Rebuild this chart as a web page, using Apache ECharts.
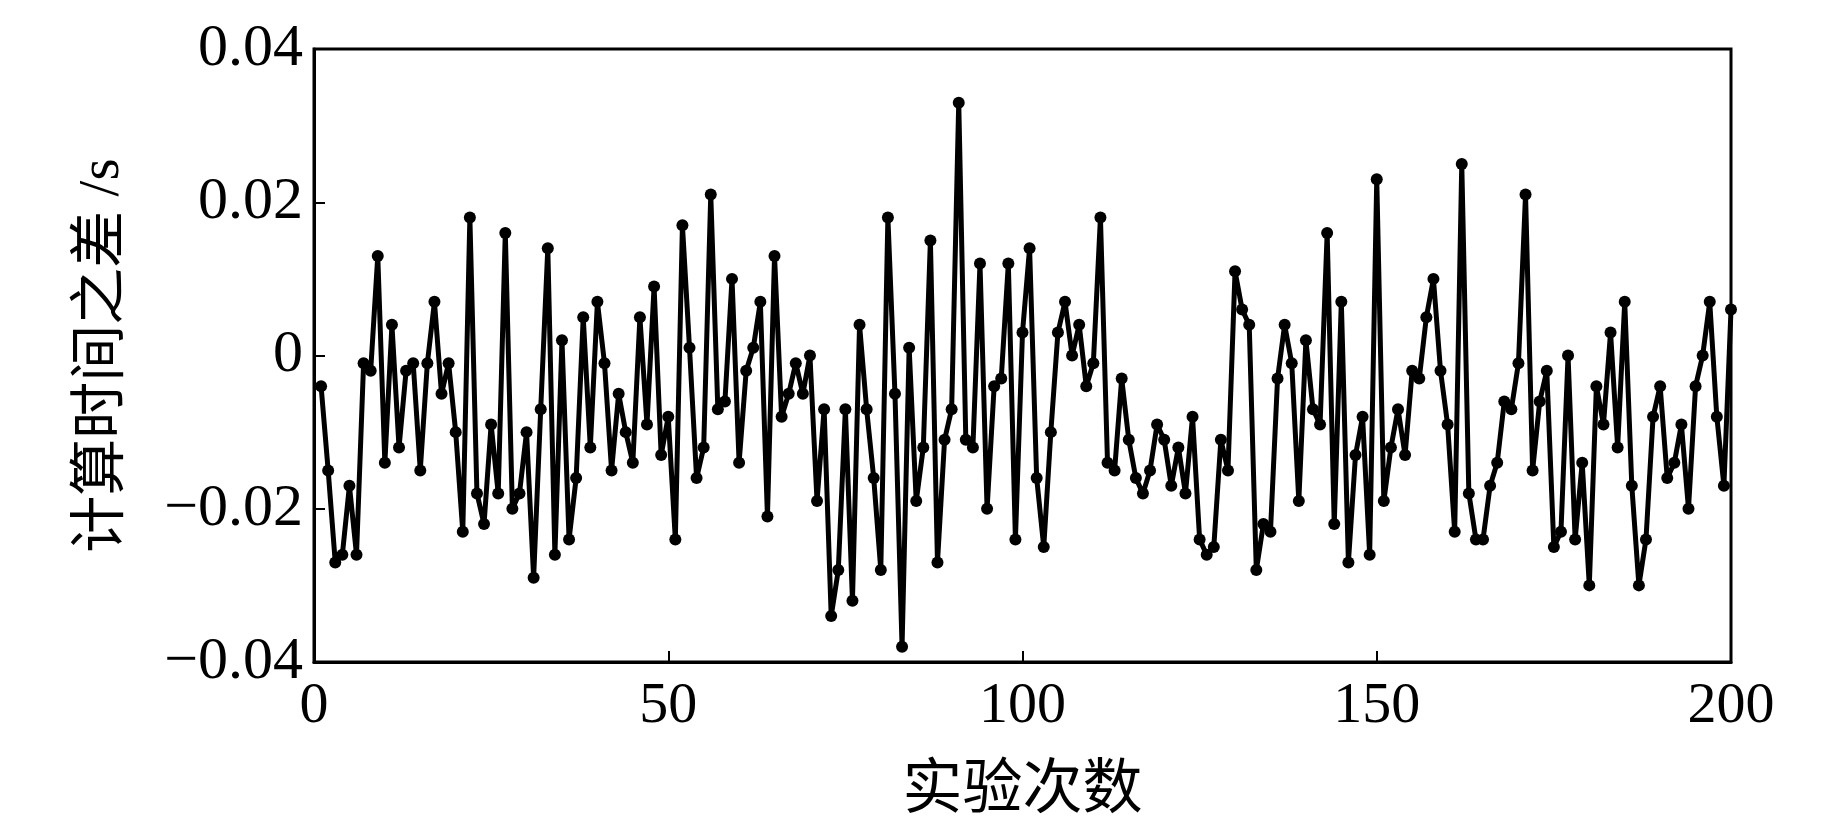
<!DOCTYPE html>
<html>
<head>
<meta charset="utf-8">
<title>计算时间之差</title>
<script src="https://cdn.jsdelivr.net/npm/echarts@6/dist/echarts.min.js"></script>
<style>
  html, body { margin: 0; padding: 0; background: #fff; }
  #chart { width: 1843px; height: 827px; }
</style>
</head>
<body>
<div id="chart"></div>
<script>
// 每次实验的计算时间之差 (s)，实验次数 1..200
var timeDiff = [
  -0.004, -0.015, -0.027, -0.026, -0.017, -0.026, -0.001, -0.002, 0.013, -0.014, 0.004, -0.012, -0.002, -0.001, -0.015, -0.001, 0.007, -0.005, -0.001, -0.010, -0.023, 0.018, -0.018, -0.022, -0.009,
  -0.018, 0.016, -0.020, -0.018, -0.010, -0.029, -0.007, 0.014, -0.026, 0.002, -0.024, -0.016, 0.005, -0.012, 0.007, -0.001, -0.015, -0.005, -0.010, -0.014, 0.005, -0.009, 0.009, -0.013, -0.008,
  -0.024, 0.017, 0.001, -0.016, -0.012, 0.021, -0.007, -0.006, 0.010, -0.014, -0.002, 0.001, 0.007, -0.021, 0.013, -0.008, -0.005, -0.001, -0.005, 0.000, -0.019, -0.007, -0.034, -0.028, -0.007,
  -0.032, 0.004, -0.007, -0.016, -0.028, 0.018, -0.005, -0.038, 0.001, -0.019, -0.012, 0.015, -0.027, -0.011, -0.007, 0.033, -0.011, -0.012, 0.012, -0.020, -0.004, -0.003, 0.012, -0.024, 0.003,
  0.014, -0.016, -0.025, -0.010, 0.003, 0.007, 0.000, 0.004, -0.004, -0.001, 0.018, -0.014, -0.015, -0.003, -0.011, -0.016, -0.018, -0.015, -0.009, -0.011, -0.017, -0.012, -0.018, -0.008, -0.024,
  -0.026, -0.025, -0.011, -0.015, 0.011, 0.006, 0.004, -0.028, -0.022, -0.023, -0.003, 0.004, -0.001, -0.019, 0.002, -0.007, -0.009, 0.016, -0.022, 0.007, -0.027, -0.013, -0.008, -0.026, 0.023,
  -0.019, -0.012, -0.007, -0.013, -0.002, -0.003, 0.005, 0.010, -0.002, -0.009, -0.023, 0.025, -0.018, -0.024, -0.024, -0.017, -0.014, -0.006, -0.007, -0.001, 0.021, -0.015, -0.006, -0.002, -0.025,
  -0.023, 0.000, -0.024, -0.014, -0.030, -0.004, -0.009, 0.003, -0.012, 0.007, -0.017, -0.030, -0.024, -0.008, -0.004, -0.016, -0.014, -0.009, -0.020, -0.004, 0.000, 0.007, -0.008, -0.017, 0.006
];
var xTicks = [0, 50, 100, 150, 200];
var yTicks = [-0.04, -0.02, 0, 0.02, 0.04];

var chart = echarts.init(document.getElementById('chart'));
var points = timeDiff.map(function (v, i) { return [i + 1, v]; });

var serif = '"Liberation Serif", "Times New Roman", serif';
var cjk = '"Liberation Serif", "Noto Sans CJK SC", serif';

var option = {
  animation: false,
  backgroundColor: '#fff',
  grid: {
    left: 314,
    right: 112,
    top: 49,
    bottom: 165,
    show: true,
    borderColor: '#000',
    borderWidth: 3,
    backgroundColor: 'transparent'
  },
  xAxis: {
    type: 'value',
    min: xTicks[0],
    max: xTicks[xTicks.length - 1],
    interval: 50,
    name: '实验次数',
    nameLocation: 'middle',
    nameGap: 100,
    nameTextStyle: { color: '#000', fontSize: 60, fontFamily: cjk },
    axisLine: { show: true, onZero: false, lineStyle: { color: '#000', width: 3 } },
    axisTick: { show: true, inside: true, length: 11, lineStyle: { color: '#000', width: 2 } },
    axisLabel: { color: '#000', fontSize: 58, fontFamily: serif, margin: 16 },
    splitLine: { show: false }
  },
  yAxis: {
    type: 'value',
    min: yTicks[0],
    max: yTicks[yTicks.length - 1],
    interval: 0.02,
    name: '计算时间之差 /s',
    nameLocation: 'middle',
    nameGap: 182,
    nameRotate: 90,
    nameTextStyle: { color: '#000', fontSize: 57, fontFamily: cjk },
    axisLine: { show: true, onZero: false, lineStyle: { color: '#000', width: 3 } },
    axisTick: { show: true, inside: true, length: 11, lineStyle: { color: '#000', width: 2 } },
    axisLabel: {
      color: '#000',
      fontSize: 60,
      fontFamily: serif,
      margin: 11,
      formatter: function (v) {
        var s = String(Math.round(v * 100) / 100);
        return s.replace('-', '\u2212');
      }
    },
    splitLine: { show: false }
  },
  series: [
    {
      type: 'line',
      data: points,
      symbol: 'circle',
      symbolSize: 12,
      showAllSymbol: true,
      lineStyle: { color: '#000', width: 5 },
      itemStyle: { color: '#000' },
      clip: false
    }
  ]
};

chart.setOption(option);
window.addEventListener('resize', function () {
  chart.resize();
});
</script>
</body>
</html>
